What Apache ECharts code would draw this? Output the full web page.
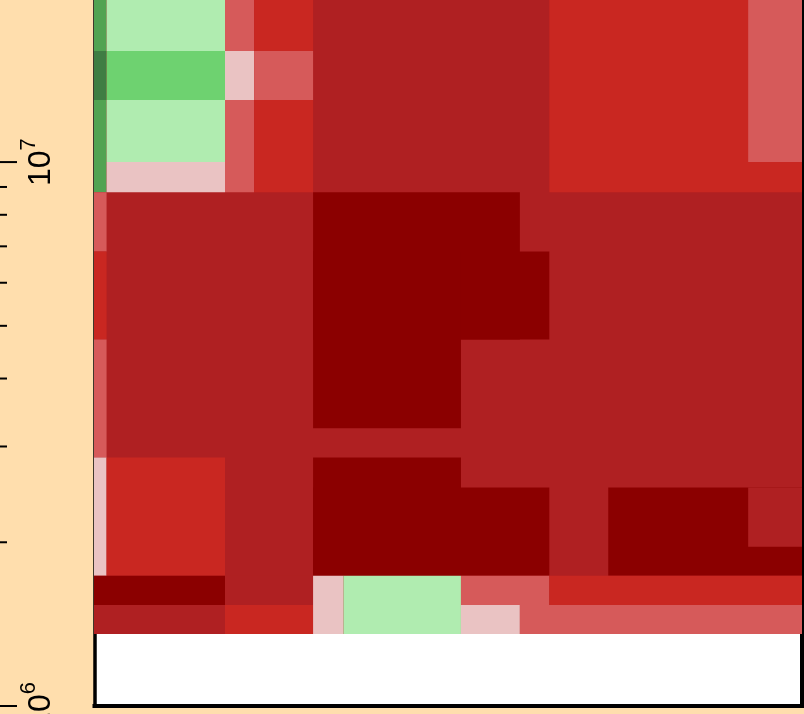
<!DOCTYPE html>
<html>
<head>
<meta charset="utf-8">
<script src="https://cdn.jsdelivr.net/npm/echarts@6/dist/echarts.min.js"></script>
<style>
  html, body { margin: 0; padding: 0; background: #FFDEAD; }
  #chart { width: 804px; height: 714px; }
</style>
</head>
<body>
<div id="chart"></div>
<script>
// Bin edges along x (linear units) and y (log10 scale values)
const xBreaks = [-1, 0.41, 4.43, 5.42, 7.42, 8.45, 12.44, 14.44, 15.44, 17.44, 22.19, 25];
const yBreaks = [1.357e6, 1.534e6, 1.736e6, 1.963e6, 2.522e6, 2.862e6, 3.24e6,
                 4.72e6, 6.85e6, 8.80e6, 1.0e7, 1.3e7, 1.6e7, 2.2e7];

// Cells: [x-edge from, x-edge to, y-edge from, y-edge to, level]; later cells sit on top
const cellSpans = [
  [0, 11, 0, 13, 2],
  // upper band
  [0, 1, 12, 13, 8], [0, 1, 11, 12, 9], [0, 1, 9, 11, 8],
  [1, 2, 12, 13, 6], [1, 2, 11, 12, 7], [1, 2, 10, 11, 6], [1, 2, 9, 10, 5],
  [2, 3, 12, 13, 4], [2, 3, 11, 12, 5], [2, 3, 9, 11, 4],
  [3, 4, 12, 13, 3], [3, 4, 11, 12, 4], [3, 4, 9, 11, 3],
  [8, 11, 9, 13, 3], [10, 11, 10, 13, 4],
  // middle band
  [0, 1, 8, 9, 4], [0, 1, 7, 8, 3], [0, 1, 5, 7, 4],
  [4, 7, 7, 9, 1], [4, 8, 7, 8, 1], [4, 6, 6, 8, 1],
  // lower band
  [0, 1, 2, 5, 5], [1, 2, 2, 5, 3],
  [4, 6, 2, 5, 1], [4, 8, 2, 4, 1], [9, 11, 2, 4, 1], [10, 11, 3, 4, 2],
  [0, 2, 1, 2, 1], [0, 2, 0, 1, 2], [2, 4, 1, 2, 2], [2, 4, 0, 1, 3],
  [4, 5, 0, 2, 5], [5, 6, 0, 2, 6], [6, 8, 1, 2, 4], [6, 7, 0, 1, 5],
  [7, 11, 0, 1, 4], [8, 11, 1, 2, 3]
];

// Log-axis tick positions (decades and their multiples)
const tickValues = [1e6, 2e6, 3e6, 4e6, 5e6, 6e6, 7e6, 8e6, 9e6, 1e7, 2e7];

// Level colours, dark red through pale to dark green
const levelColors = {
  1: '#8B0000', 2: '#AF2022', 3: '#C92721', 4: '#D65A5A', 5: '#EAC3C3',
  6: '#B0ECB0', 7: '#6ED270', 8: '#52A352', 9: '#3F7D43'
};

const FONT = '"Liberation Sans", Arial, Helvetica, sans-serif';
const Y_MIN = 1e6, Y_MAX = 1.986e7;

const cellData = cellSpans.map(c => [xBreaks[c[0]], xBreaks[c[1]], yBreaks[c[2]], yBreaks[c[3]], c[4]]);
const tickData = tickValues.map(v => [0, v]);

const isDecade = v => {
  const l = Math.log10(v);
  return Math.abs(l - Math.round(l)) < 1e-6;
};

const chart = echarts.init(document.getElementById('chart'), null, { renderer: 'canvas' });
chart.setOption({
  backgroundColor: '#FFDEAD',
  animation: false,
  grid: {
    left: 94.5, right: 2.5, top: 0, bottom: 8,
    containLabel: false, outerBoundsMode: 'none',
    show: true, backgroundColor: '#FFFFFF', borderWidth: 0
  },
  xAxis: {
    type: 'value', min: 0, max: 24,
    axisLine: { show: true, onZero: false, lineStyle: { color: '#000', width: 4, cap: 'square' } },
    axisTick: { show: false }, axisLabel: { show: false }, splitLine: { show: false }
  },
  yAxis: [
    {
      type: 'log', logBase: 10, min: Y_MIN, max: Y_MAX, position: 'left',
      axisLine: { show: true, lineStyle: { color: '#000', width: 3.5, cap: 'square' } },
      axisTick: { show: false }, splitLine: { show: false }, minorTick: { show: false },
      axisLabel: {
        show: true, rotate: 90, margin: 37, showMaxLabel: false, hideOverlap: false,
        formatter: v => isDecade(v) ? '{b|10}{s|' + Math.round(Math.log10(v)) + '}' : '',
        rich: {
          b: { fontSize: 32, fontFamily: FONT, color: '#000', height: 32, lineHeight: 32, verticalAlign: 'bottom' },
          s: { fontSize: 22, fontFamily: FONT, color: '#000', height: 22, lineHeight: 40, padding: [0, 0, 18, 0], verticalAlign: 'bottom' }
        }
      }
    },
    {
      type: 'log', logBase: 10, min: Y_MIN, max: Y_MAX, position: 'right',
      axisLine: { show: true, lineStyle: { color: '#000', width: 4, cap: 'square' } },
      axisTick: { show: false }, axisLabel: { show: false }, splitLine: { show: false }
    }
  ],
  series: [
    {
      type: 'custom', clip: true, silent: true,
      encode: { x: [0, 1], y: [2, 3] },
      data: cellData,
      renderItem: (params, api) => {
        const p0 = api.coord([api.value(0), api.value(2)]);
        const p1 = api.coord([api.value(1), api.value(3)]);
        return {
          type: 'rect',
          shape: { x: p0[0], y: p1[1], width: p1[0] - p0[0], height: p0[1] - p1[1] },
          style: { fill: levelColors[api.value(4)], stroke: null, lineWidth: 0 }
        };
      }
    },
    {
      type: 'custom', clip: false, silent: true,
      encode: { x: 0, y: 1 },
      data: tickData,
      renderItem: (params, api) => {
        const v = api.value(1);
        const y = api.coord([0, v])[1];
        const left = params.coordSys.x;
        return {
          type: 'line',
          shape: { x1: left - 98, y1: y, x2: left - (isDecade(v) ? 77.5 : 87.5), y2: y },
          style: { stroke: '#000', lineWidth: 2 }
        };
      }
    }
  ]
});
</script>
</body>
</html>
